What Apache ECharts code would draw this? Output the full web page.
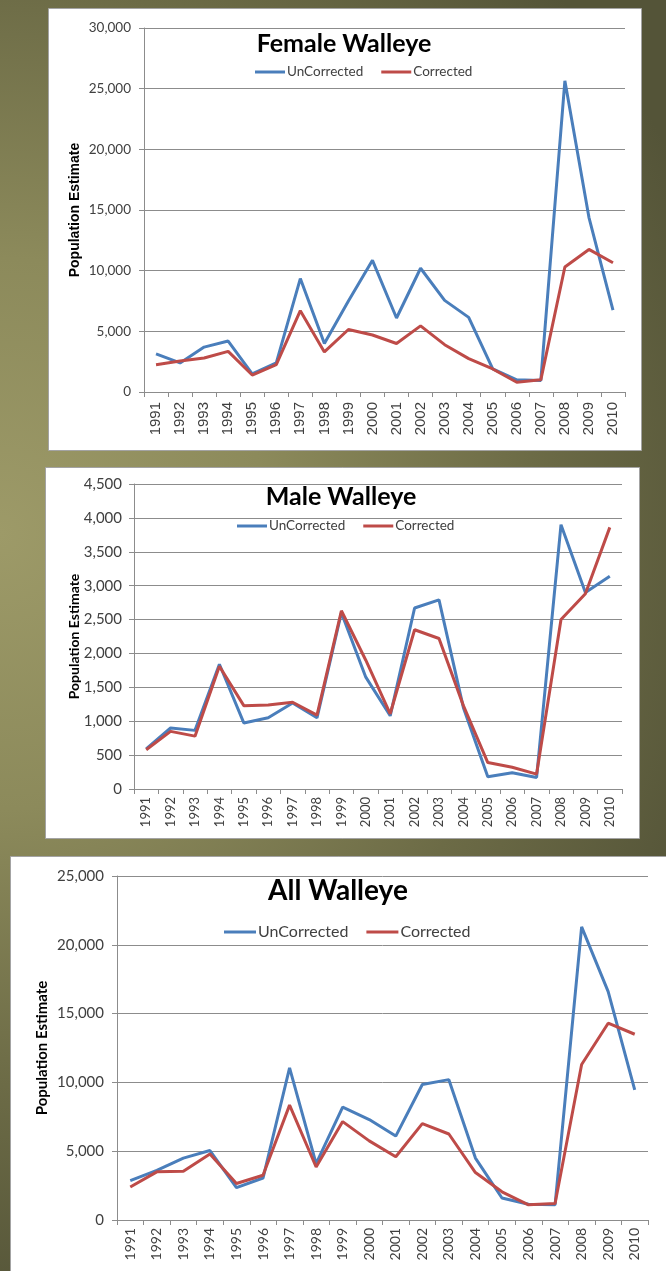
<!DOCTYPE html>
<html>
<head>
<meta charset="utf-8">
<script src="https://cdn.jsdelivr.net/npm/echarts@6.0.0/dist/echarts.min.js"></script>
<style>
html, body { margin: 0; padding: 0; }
#walleye {
    width: 666px; height: 1271px;
    background: radial-gradient(ellipse 115% 62% at 0% 42%, #9d9a68 0%, #8c8a5b 35%, #6c6b46 70%, #545438 100%);
}
</style>
</head>
<body>
<div id="walleye"></div>
<script>
// years on the x axis
var years = ['1991','1992','1993','1994','1995','1996','1997','1998','1999','2000',
             '2001','2002','2003','2004','2005','2006','2007','2008','2009','2010'];

// Female walleye population estimates
var femaleUnCorrected = [3150, 2400, 3700, 4200, 1500, 2400, 9350, 4000, 7500, 10850,
                         6100, 10200, 7550, 6150, 1900, 1000, 950, 25650, 14400, 6750];
var femaleCorrected   = [2250, 2550, 2800, 3350, 1400, 2250, 6700, 3300, 5150, 4700,
                         4000, 5450, 3900, 2750, 1900, 800, 1000, 10300, 11750, 10650];

// Male walleye
var maleUnCorrected = [590, 900, 865, 1840, 975, 1050, 1270, 1050, 2600, 1650,
                       1080, 2670, 2790, 1200, 180, 240, 170, 3900, 2900, 3140];
var maleCorrected   = [580, 850, 780, 1810, 1230, 1240, 1280, 1090, 2630, 1900,
                       1110, 2350, 2220, 1230, 390, 320, 220, 2500, 2880, 3860];

// All walleye
var allUnCorrected = [2860, 3600, 4500, 5050, 2350, 3050, 11050, 4100, 8200, 7300,
                      6100, 9850, 10200, 4500, 1600, 1150, 1100, 21300, 16600, 9450];
var allCorrected   = [2400, 3500, 3550, 4800, 2650, 3250, 8350, 3850, 7150, 5750,
                      4600, 7000, 6250, 3450, 2050, 1100, 1200, 11300, 14300, 13500];

// y axis ranges (max, step)
var femaleRange = [30000, 5000];
var maleRange   = [4500, 500];
var allRange    = [25000, 5000];

var blue = '#4a7ebb';
var red = '#be4b48';
var gridGray = '#8c8c8c';
var labelGray = '#404040';
var calibri = 'Lato, "Open Sans", sans-serif';
var arial = '"Liberation Sans", Arial, sans-serif';

var comma = function (v) {
    return String(v).replace(/\B(?=(\d{3})+(?!\d))/g, ',');
};

var chart = echarts.init(document.getElementById('walleye'), null, {renderer: 'canvas'});

// one x axis per panel
var xAxisFor = function (idx, font, size, margin) {
    return {
        type: 'category',
        gridIndex: idx,
        data: years,
        boundaryGap: true,
        axisLine: {lineStyle: {color: gridGray, width: 1}},
        axisTick: {show: true, length: 5, alignWithLabel: false, lineStyle: {color: gridGray}},
        axisLabel: {
            interval: 0, rotate: 90, margin: margin,
            color: labelGray, fontFamily: font, fontSize: size
        }
    };
};

var yAxisFor = function (idx, range, size, nameSize, nameGap, nameFont, margin) {
    return {
        type: 'value',
        gridIndex: idx,
        min: 0, max: range[0], interval: range[1],
        name: 'Population Estimate',
        nameLocation: 'middle',
        nameGap: nameGap,
        nameMoveOverlap: false,
        nameTextStyle: {color: '#000', fontWeight: 'bold', fontSize: nameSize, fontFamily: nameFont},
        axisLine: {show: true, lineStyle: {color: gridGray, width: 1}},
        axisTick: {show: true, length: 5, lineStyle: {color: gridGray}},
        splitLine: {lineStyle: {color: gridGray, width: 1}},
        axisLabel: {color: labelGray, fontFamily: calibri, fontSize: size, margin: margin, formatter: comma}
    };
};

var lineFor = function (name, idx, color, data) {
    return {
        name: name, type: 'line',
        xAxisIndex: idx, yAxisIndex: idx,
        data: data,
        symbol: 'none', smooth: false,
        lineStyle: {color: color, width: 3},
        itemStyle: {color: color},
        animation: false
    };
};

var legendFor = function (left, top, size, w) {
    return {
        left: left, top: top,
        itemWidth: w, itemHeight: 3, itemGap: 18,
        icon: 'rect',
        data: ['UnCorrected', 'Corrected'],
        textStyle: {color: labelGray, fontFamily: calibri, fontSize: size, padding: [0, 0, 0, -3]}
    };
};

var panel = function (x, y, w, h) {
    return {
        type: 'rect', z: -10,
        shape: {x: x, y: y, width: w, height: h},
        style: {fill: '#fff', stroke: '#a3a3a3', lineWidth: 1}
    };
};

var heading = function (text, x, y, size) {
    return {
        type: 'text', z: 10, x: x, y: y,
        style: {
            text: text, fill: '#000',
            font: 'bold ' + size + 'px ' + calibri,
            align: 'center', verticalAlign: 'middle'
        }
    };
};

var option = {
    animation: false,
    grid: [
        {left: 144, top: 28, width: 481, height: 364},
        {left: 134, top: 484, width: 488, height: 305},
        {left: 117, top: 876, width: 531, height: 344}
    ],
    xAxis: [
        xAxisFor(0, arial, 15, 10),
        xAxisFor(1, calibri, 13, 8),
        xAxisFor(2, calibri, 14, 8)
    ],
    yAxis: [
        yAxisFor(0, femaleRange, 13.5, 14, 62, arial, 13),
        yAxisFor(1, maleRange, 15, 14, 53, calibri, 12),
        yAxisFor(2, allRange, 15, 15, 67, calibri, 13)
    ],
    legend: [
        legendFor(250, 60, 13.5, 30),
        legendFor(232, 514, 13.5, 30),
        legendFor(219, 919, 16, 32)
    ],
    series: [
        lineFor('UnCorrected', 0, blue, femaleUnCorrected),
        lineFor('Corrected', 0, red, femaleCorrected),
        lineFor('UnCorrected', 1, blue, maleUnCorrected),
        lineFor('Corrected', 1, red, maleCorrected),
        lineFor('UnCorrected', 2, blue, allUnCorrected),
        lineFor('Corrected', 2, red, allCorrected)
    ],
    graphic: [
        panel(48.5, 8.5, 593, 442),
        panel(45.5, 467.5, 594, 371),
        panel(10.5, 856.5, 670, 430),
        heading('Female Walleye', 344, 44, 25),
        heading('Male Walleye', 341, 497, 25),
        heading('All Walleye', 338, 891, 28)
    ]
};

chart.setOption(option);
</script>
</body>
</html>
